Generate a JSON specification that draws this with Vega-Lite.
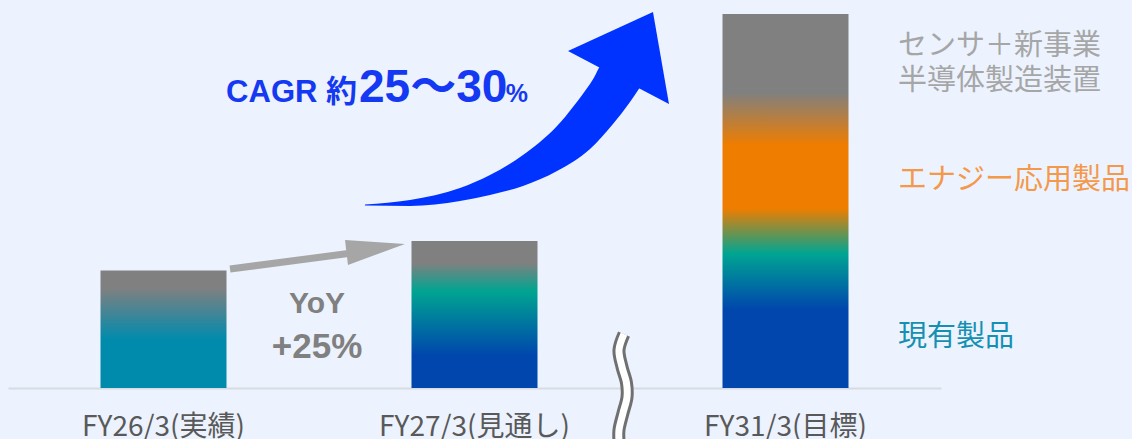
{
  "$schema": "https://vega.github.io/schema/vega-lite/v6.json",
  "width": 933,
  "height": 388,
  "autosize": "none",
  "padding": {"left": 8, "top": 0, "right": 191, "bottom": 51},
  "background": "#ECF3FE",
  "config": {"view": {"stroke": null}},
  "datasets": {
    "sales": [
      {"period": "FY26/3(実績)", "value": 100},
      {"period": "FY27/3(見通し)", "value": 125},
      {"period": "FY31/3(目標)", "value": 318}
    ],
    "cagrShaft": [
      {"slot": 1.1479, "upper": 156.07, "lower": 155.22},
      {"slot": 1.2926, "upper": 159.90, "lower": 154.79},
      {"slot": 1.4534, "upper": 170.10, "lower": 159.05},
      {"slot": 1.5498, "upper": 181.16, "lower": 164.15},
      {"slot": 1.6559, "upper": 198.17, "lower": 171.80},
      {"slot": 1.7653, "upper": 222.83, "lower": 184.56},
      {"slot": 1.8714, "upper": 258.56, "lower": 203.27},
      {"slot": 1.9453, "upper": 287.47, "lower": 224.54},
      {"slot": 2.0000, "upper": 283.22, "lower": 243.25},
      {"slot": 2.0514, "upper": 263.66, "lower": 263.66}
    ],
    "cagrHead": [{"slot": 2.0, "value": 282.7}],
    "yoyShaft": [
      {"slot": 0.7138, "value": 101.2},
      {"slot": 1.1061, "value": 114.8}
    ],
    "yoyHead": [{"slot": 1.1511, "value": 117.7}],
    "segments": [
      {"label": "センサ＋新事業", "group": "other", "slot": 2.8617, "value": 291.3},
      {"label": "半導体製造装置", "group": "other", "slot": 2.8617, "value": 260.7},
      {"label": "エナジー応用製品", "group": "energy", "slot": 2.8617, "value": 177.3},
      {"label": "現有製品", "group": "existing", "slot": 2.8617, "value": 43.8}
    ],
    "axisBreak": [
      {"seq": 1, "slot": 1.9807, "value": 45.9},
      {"seq": 2, "slot": 1.9646, "value": 32.3},
      {"seq": 3, "slot": 1.9743, "value": 17.9},
      {"seq": 4, "slot": 1.9887, "value": 4.3},
      {"seq": 5, "slot": 1.9904, "value": -7.7},
      {"seq": 6, "slot": 1.9775, "value": -21.3},
      {"seq": 7, "slot": 1.9646, "value": -35.7},
      {"seq": 8, "slot": 1.9646, "value": -45.1}
    ]
  },
  "layer": [
    {
      "data": {"name": "sales"},
      "mark": {"type": "bar", "width": 126},
      "encoding": {
        "x": {
          "field": "period",
          "type": "nominal",
          "sort": null,
          "scale": {"domain": ["FY26/3(実績)", "FY27/3(見通し)", "FY31/3(目標)"], "paddingInner": 0, "paddingOuter": 0},
          "axis": {
            "title": null,
            "labelAngle": 0,
            "ticks": false,
            "tickSize": 0,
            "grid": false,
            "domainColor": "#D8DBE0",
            "domainWidth": 2,
            "labelPadding": 25,
            "labelLimit": 0,
            "labelFont": "Noto Sans CJK JP",
            "labelFontSize": 28,
            "labelColor": "#595959"
          }
        },
        "y": {
          "field": "value",
          "type": "quantitative",
          "scale": {"domain": [0, 330], "nice": false},
          "axis": null
        },
        "fill": {
          "condition": [
            {
              "test": "datum.period === 'FY27/3(見通し)'",
              "value": {
                "gradient": "linear", "x1": 0, "y1": 0, "x2": 0, "y2": 1,
                "stops": [
                  {"offset": 0, "color": "#808080"},
                  {"offset": 0.15, "color": "#808080"},
                  {"offset": 0.34, "color": "#00A591"},
                  {"offset": 0.78, "color": "#0046AD"},
                  {"offset": 1, "color": "#0046AD"}
                ]
              }
            },
            {
              "test": "datum.period === 'FY31/3(目標)'",
              "value": {
                "gradient": "linear", "x1": 0, "y1": 0, "x2": 0, "y2": 1,
                "stops": [
                  {"offset": 0, "color": "#808080"},
                  {"offset": 0.21, "color": "#808080"},
                  {"offset": 0.35, "color": "#EE7D00"},
                  {"offset": 0.52, "color": "#EE7D00"},
                  {"offset": 0.64, "color": "#00A592"},
                  {"offset": 0.79, "color": "#0046AD"},
                  {"offset": 1, "color": "#0046AD"}
                ]
              }
            }
          ],
          "value": {
            "gradient": "linear", "x1": 0, "y1": 0, "x2": 0, "y2": 1,
            "stops": [
              {"offset": 0, "color": "#808080"},
              {"offset": 0.15, "color": "#808080"},
              {"offset": 0.59, "color": "#008BAD"},
              {"offset": 1, "color": "#008BAD"}
            ]
          }
        }
      }
    },
    {
      "encoding": {
        "x": {"field": "slot", "type": "quantitative", "scale": {"domain": [0, 3], "nice": false, "zero": false}, "axis": null},
        "y": {"field": "value", "type": "quantitative", "scale": {"domain": [0, 330], "nice": false}, "axis": null}
      },
      "layer": [
        {
          "data": {"name": "cagrShaft"},
          "mark": {"type": "area", "color": "#0033FF", "opacity": 1, "interpolate": "monotone"},
          "encoding": {
            "y": {"field": "upper", "type": "quantitative", "scale": {"domain": [0, 330], "nice": false}, "axis": null},
            "y2": {"field": "lower"}
          }
        },
        {
          "data": {"name": "cagrHead"},
          "mark": {"type": "point", "filled": true, "opacity": 1, "color": "#0033FF", "strokeWidth": 0, "size": 16384, "shape": "M-0.969,-0.073L0.359,-0.682L0.609,0.755Z"}
        },
        {
          "data": {"name": "yoyShaft"},
          "mark": {"type": "line", "color": "#A6A6A6", "strokeWidth": 7, "strokeCap": "butt"}
        },
        {
          "data": {"name": "yoyHead"},
          "mark": {"type": "point", "filled": true, "opacity": 1, "color": "#A6A6A6", "strokeWidth": 0, "size": 6400, "shape": "M-0.525,-0.242L0.975,-0.142L-0.45,0.383Z"}
        },
        {
          "data": {"values": [{"text": "CAGR 約", "slot": 1.1222, "value": 243.3}]},
          "mark": {"type": "text", "align": "right", "baseline": "alphabetic", "font": "Liberation Sans, Noto Sans CJK JP", "fontWeight": "bold", "fontSize": 31, "color": "#1538F2"},
          "encoding": {"text": {"field": "text"}}
        },
        {
          "data": {"values": [{"text": "25～30", "slot": 1.1286, "value": 243.3}]},
          "mark": {"type": "text", "align": "left", "baseline": "alphabetic", "font": "Liberation Sans, Noto Sans CJK JP", "fontWeight": "bold", "fontSize": 46, "color": "#1538F2"},
          "encoding": {"text": {"field": "text"}}
        },
        {
          "data": {"values": [{"text": "%", "slot": 1.672, "value": 243.3}]},
          "mark": {"type": "text", "align": "right", "baseline": "alphabetic", "font": "Liberation Sans", "fontWeight": "bold", "fontSize": 25, "color": "#1538F2"},
          "encoding": {"text": {"field": "text"}}
        },
        {
          "data": {"values": [{"text": "YoY", "slot": 0.9936, "value": 63.8}]},
          "mark": {"type": "text", "align": "center", "baseline": "alphabetic", "font": "Liberation Sans", "fontWeight": "bold", "fontSize": 30, "color": "#808080"},
          "encoding": {"text": {"field": "text"}}
        },
        {
          "data": {"values": [{"text": "+25%", "slot": 0.9936, "value": 25.5}]},
          "mark": {"type": "text", "align": "center", "baseline": "alphabetic", "font": "Liberation Sans", "fontWeight": "bold", "fontSize": 35, "color": "#808080"},
          "encoding": {"text": {"field": "text"}}
        },
        {
          "data": {"name": "segments"},
          "mark": {"type": "text", "align": "left", "baseline": "middle", "font": "Noto Sans CJK JP", "fontSize": 29},
          "encoding": {
            "text": {"field": "label"},
            "color": {
              "field": "group",
              "type": "nominal",
              "scale": {"domain": ["other", "energy", "existing"], "range": ["#A6A6A6", "#F4984A", "#1590B2"]},
              "legend": null
            }
          }
        },
        {
          "data": {"name": "axisBreak"},
          "mark": {"type": "line", "color": "#707070", "strokeWidth": 13, "interpolate": "catmull-rom", "strokeCap": "butt"},
          "encoding": {"order": {"field": "seq", "type": "quantitative"}}
        },
        {
          "data": {"name": "axisBreak"},
          "mark": {"type": "line", "color": "#FFFFFF", "strokeWidth": 7, "interpolate": "catmull-rom", "strokeCap": "butt"},
          "encoding": {"order": {"field": "seq", "type": "quantitative"}}
        }
      ]
    }
  ],
  "resolve": {"scale": {"x": "independent"}, "axis": {"x": "independent"}}
}
